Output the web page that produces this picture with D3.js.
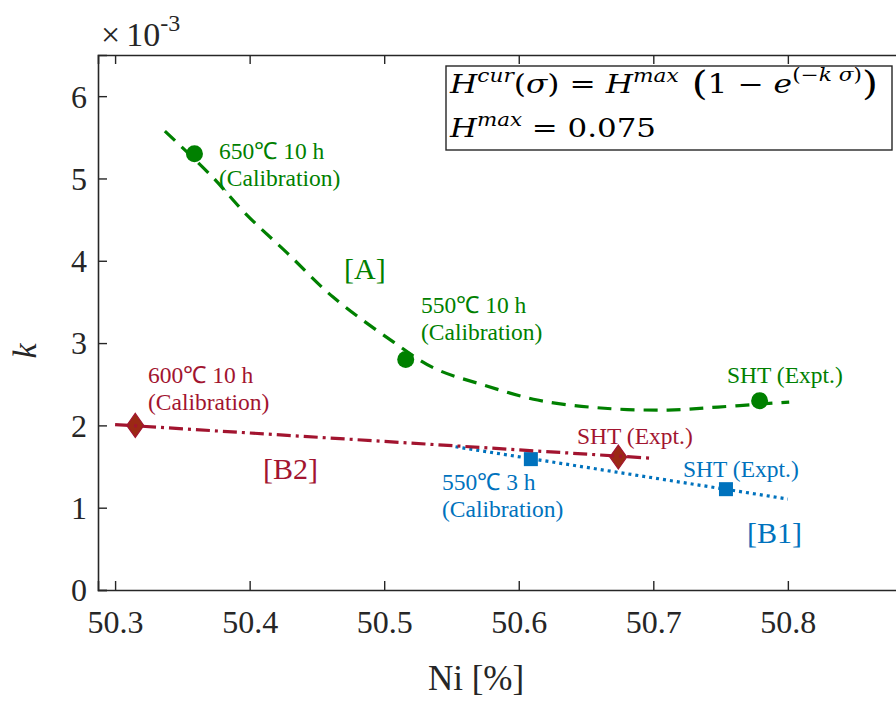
<!DOCTYPE html>
<html>
<head>
<meta charset="utf-8">
<script src="https://cdn.jsdelivr.net/npm/d3@7/dist/d3.min.js"></script>
<style>
  html, body { margin: 0; padding: 0; background: #fff; }
  svg { display: block; }
  text { font-family: "Liberation Serif", "Times New Roman", serif; }
</style>
</head>
<body>
<svg id="chart" width="896" height="704"></svg>
<script>
// ---- data: k (×10^-3) versus Ni content ----
const xTicks = [50.3, 50.4, 50.5, 50.6, 50.7, 50.8];
const yTicks = [0, 1, 2, 3, 4, 5, 6];

// [A] calibration / experiment points and fitted trend
const aNi = [50.359, 50.516, 50.779];
const aK  = [5.30, 2.80, 2.30];
const aFitNi = [50.337, 50.371, 50.398, 50.428, 50.462, 50.507, 50.537, 50.574, 50.614, 50.661, 50.711, 50.748, 50.790, 50.801];
const aFitK  = [5.575, 5.041, 4.555, 4.093, 3.559, 3.012, 2.696, 2.490, 2.308, 2.211, 2.186, 2.223, 2.271, 2.283];

// [B2] points and trend
const b2Ni = [50.315, 50.674];
const b2K  = [2.00, 1.615];
const b2FitNi = [50.300, 50.700];
const b2FitK  = [2.010, 1.600];

// [B1] points and trend
const b1Ni = [50.609, 50.754];
const b1K  = [1.59, 1.225];
const b1FitNi = [50.553, 50.800];
const b1FitK  = [1.740, 1.105];

// annotation text
const aLabels  = [["650℃ 10 h", "(Calibration)"], ["550℃ 10 h", "(Calibration)"], ["SHT (Expt.)"]];
const b2Labels = [["600℃ 10 h", "(Calibration)"], ["SHT (Expt.)"]];
const b1Labels = [["550℃ 3 h", "(Calibration)"], ["SHT (Expt.)"]];

const GREEN = "#008000", RED = "#a2142f", DIAMOND = "#9b2914", BLUE = "#0072bd", AXIS = "#262626";

const svg = d3.select("#chart");
const M = { left: 98, top: 55, right: 906, bottom: 590 };

const x = d3.scaleLinear().domain([50.2873, 50.8878]).range([M.left, M.right]);
const y = d3.scaleLinear().domain([0, 6.5]).range([M.bottom, M.top]);

// ---- axes (inward ticks, mirrored on top) ----
const tickLen = 9;
const xAxis = svg.append("g").attr("transform", `translate(0,${M.bottom})`)
  .call(d3.axisBottom(x).tickValues(xTicks).tickSize(-tickLen).tickPadding(20)
        .tickFormat(d3.format(".1f")));
const xTop = svg.append("g").attr("transform", `translate(0,${M.top})`)
  .call(d3.axisTop(x).tickValues(xTicks).tickSize(-tickLen).tickFormat(""));
const yAxis = svg.append("g").attr("transform", `translate(${M.left},0)`)
  .call(d3.axisLeft(y).tickValues(yTicks).tickSize(-tickLen).tickPadding(11)
        .tickFormat(d3.format("d")));

[xAxis, xTop, yAxis].forEach(g => {
  g.select(".domain").attr("stroke", AXIS).attr("stroke-width", 1.6);
  g.selectAll(".tick line").attr("stroke", AXIS).attr("stroke-width", 1.4);
  g.selectAll(".tick text").attr("fill", AXIS)
    .style("font-family", '"Liberation Serif", serif').style("font-size", "32px");
});
yAxis.selectAll(".tick text").attr("dy", "0.34em");

// exponent marker above the y axis
const expo = svg.append("text").attr("x", 101).attr("y", 46).attr("fill", AXIS).style("font-size", "34px");
expo.append("tspan").text("×");
expo.append("tspan").attr("dx", 6).text("10");
expo.append("tspan").attr("dy", -15).style("font-size", "24px").text("-3");

// axis titles
svg.append("text").attr("x", 476).attr("y", 690).attr("text-anchor", "middle")
  .attr("fill", AXIS).style("font-size", "35px").text("Ni [%]");
svg.append("text").attr("transform", "translate(36,351) rotate(-90)").attr("text-anchor", "middle")
  .attr("fill", AXIS).style("font-size", "34px").style("font-style", "italic").text("k");

// ---- trend lines ----
const line = d3.line().x(d => x(d[0])).y(d => y(d[1]));

svg.append("path").datum(d3.zip(aFitNi, aFitK))
  .attr("d", line.curve(d3.curveCatmullRom.alpha(0.5)))
  .attr("fill", "none").attr("stroke", GREEN).attr("stroke-width", 3.2)
  .attr("stroke-dasharray", "14,9");

line.curve(d3.curveLinear);

// [B1] markers sit above their dotted line
svg.append("path").datum(d3.zip(b1FitNi, b1FitK)).attr("d", line)
  .attr("fill", "none").attr("stroke", BLUE).attr("stroke-width", 3.2)
  .attr("stroke-dasharray", "3,4");
svg.selectAll(".sq").data(d3.zip(b1Ni, b1K)).join("rect")
  .attr("x", d => x(d[0]) - 7).attr("y", d => y(d[1]) - 7)
  .attr("width", 14).attr("height", 14).attr("fill", BLUE);

// [B2] diamonds with the dash-dot line drawn over them
svg.selectAll(".dm").data(d3.zip(b2Ni, b2K)).join("path")
  .attr("d", d => `M${x(d[0])},${y(d[1]) - 12} L${x(d[0]) + 8.5},${y(d[1])} L${x(d[0])},${y(d[1]) + 12} L${x(d[0]) - 8.5},${y(d[1])} Z`)
  .attr("fill", DIAMOND).attr("stroke", RED).attr("stroke-width", 1.2);
svg.append("path").datum(d3.zip(b2FitNi, b2FitK)).attr("d", line)
  .attr("fill", "none").attr("stroke", RED).attr("stroke-width", 3.2)
  .attr("stroke-dasharray", "14,5,3,5");

// [A] circles
svg.selectAll(".ci").data(d3.zip(aNi, aK)).join("circle")
  .attr("cx", d => x(d[0])).attr("cy", d => y(d[1])).attr("r", 8.5).attr("fill", GREEN);

// ---- annotations ----
function label(lines, px, py, color, size) {
  const t = svg.append("text").attr("fill", color).style("font-size", size + "px");
  lines.forEach((s, i) => t.append("tspan").attr("x", px).attr("y", py + i * 27).text(s));
}
label(aLabels[0], 219, 159, GREEN, 23.5);
label(aLabels[1], 421, 313, GREEN, 23.5);
label(aLabels[2], 727, 383, GREEN, 23.5);
label(b2Labels[0], 148, 383, RED, 23.5);
label(b2Labels[1], 577, 444, RED, 23.5);
label(b1Labels[0], 442, 490, BLUE, 23.5);
label(b1Labels[1], 683, 477, BLUE, 23.5);

label(["[A]"], 344, 279, GREEN, 30);
label(["[B2]"], 263, 479, RED, 30);
label(["[B1]"], 747, 543, BLUE, 30);

// ---- equation box ----
svg.append("rect").attr("x", 446).attr("y", 66).attr("width", 446).attr("height", 84)
  .attr("fill", "#fff").attr("stroke", AXIS).attr("stroke-width", 1.4);

const MATH = '"DejaVu Serif", serif';
const eq1 = svg.append("text").attr("x", 450).attr("y", 93).attr("fill", "#000")
  .style("font-family", MATH).style("font-size", "26px")
  .attr("textLength", 428).attr("lengthAdjust", "spacingAndGlyphs");
eq1.append("tspan").style("font-style", "italic").text("H");
eq1.append("tspan").attr("dy", -11).style("font-size", "18px").style("font-style", "italic").text("cur");
eq1.append("tspan").attr("dy", 11).text("(");
eq1.append("tspan").style("font-style", "italic").text("σ");
eq1.append("tspan").text(") = ");
eq1.append("tspan").style("font-style", "italic").text("H");
eq1.append("tspan").attr("dy", -11).style("font-size", "18px").style("font-style", "italic").text("max");
eq1.append("tspan").attr("dy", 13).style("font-size", "34px").text(" (");
eq1.append("tspan").attr("dy", -2).text("1 − ");
eq1.append("tspan").style("font-style", "italic").text("e");
eq1.append("tspan").attr("dy", -12).style("font-size", "18px").text("(−");
eq1.append("tspan").style("font-size", "18px").style("font-style", "italic").text("k σ");
eq1.append("tspan").style("font-size", "18px").text(")");
eq1.append("tspan").attr("dy", 14).style("font-size", "34px").text(")");

const eq2 = svg.append("text").attr("x", 450).attr("y", 137).attr("fill", "#000")
  .style("font-family", MATH).style("font-size", "26px")
  .attr("textLength", 206).attr("lengthAdjust", "spacingAndGlyphs");
eq2.append("tspan").style("font-style", "italic").text("H");
eq2.append("tspan").attr("dy", -11).style("font-size", "18px").style("font-style", "italic").text("max");
eq2.append("tspan").attr("dy", 11).text(" = 0.075");
</script>
</body>
</html>
